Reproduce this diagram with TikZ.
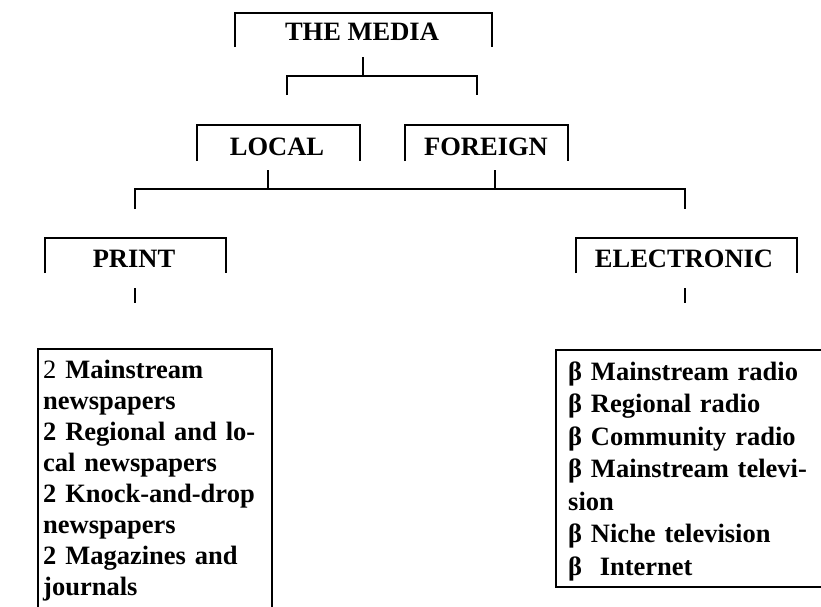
\documentclass[tikz,border=0pt]{standalone}
\usepackage{fontspec}
\setmainfont{Liberation Serif}
\begin{document}
\begin{tikzpicture}[x=1pt,y=-1pt,
  line/.style={line width=1.5pt},
  shadowline/.style={line width=2.6pt},
  label/.style={font=\fontsize{26.5}{31}\selectfont\bfseries, inner sep=0pt, anchor=base},
  listtext/.style={font=\fontsize{26.5}{31}\selectfont\bfseries, inner sep=0pt, anchor=base west, text width=260pt, align=left}
]
\useasboundingbox (0,0) rectangle (821,606);

% ---------- level 0 ----------
\node[label] (media) at (362,40) {THE MEDIA};
\draw[line] (235,47) -- (235,13) -- (492,13);
\draw[shadowline] (492,12) -- (492,47);

% ---------- level 1 ----------
\node[label] (local) at (277,155) {LOCAL};
\draw[line] (197,161) -- (197,125) -- (360,125);
\draw[shadowline] (360,124) -- (360,161);
\node[label] (foreign) at (486,155) {FOREIGN};
\draw[line] (405,161) -- (405,125) -- (568,125);
\draw[shadowline] (568,124) -- (568,161);

% ---------- level 2 ----------
\node[label] (print) at (134,267) {PRINT};
\draw[line] (45,273) -- (45,238) -- (226,238);
\draw[shadowline] (226,237) -- (226,273);
\node[label] (elec) at (684,267) {ELECTRONIC};
\draw[line] (576,273) -- (576,238) -- (797,238);
\draw[shadowline] (797,237) -- (797,273);

% ---------- connectors ----------
\coordinate (m-stem) at (363,57);
\coordinate (m-bar) at (363,76);
\coordinate (m-left) at (287,76);
\coordinate (m-right) at (477,76);
\coordinate (m-ld) at (287,95);
\coordinate (m-rd) at (477,95);
\draw[line] (m-stem) -- (m-bar);
\draw[line] (m-ld) -- (m-left) -- (m-right) -- (m-rd);

\coordinate (l-stem) at (268,170);
\coordinate (l-bar) at (268,189);
\coordinate (f-stem) at (495,170);
\coordinate (f-bar) at (495,189);
\coordinate (b-left) at (135,189);
\coordinate (b-right) at (685,189);
\coordinate (b-ld) at (135,209);
\coordinate (b-rd) at (685,209);
\draw[line] (l-stem) -- (l-bar);
\draw[line] (f-stem) -- (f-bar);
\draw[line] (b-ld) -- (b-left) -- (b-right) -- (b-rd);

\coordinate (p-s1) at (135,288);
\coordinate (p-s2) at (135,303);
\coordinate (e-s1) at (685,288);
\coordinate (e-s2) at (685,303);
\draw[line] (p-s1) -- (p-s2);
\draw[line] (e-s1) -- (e-s2);

% ---------- print list ----------
\draw[line] (38,607) -- (38,349) -- (272,349);
\draw[shadowline] (272,348) -- (272,607);
\node[listtext] (printlist) at (43,378) {%
{\mdseries 2} Mainstream\\
newspapers\\
2 Regional and lo-\\
cal newspapers\\
2 Knock-and-drop\\
newspapers\\
2 Magazines and\\
journals};

% ---------- electronic list ----------
\draw[line] (822,350) -- (556,350) -- (556,587);
\draw[shadowline] (555,587) -- (822,587);
\node[listtext, font=\fontsize{26.5}{32.5}\selectfont\bfseries] (eleclist) at (568,380) {%
β Mainstream radio\\
β Regional radio\\
β Community radio\\
β Mainstream televi-\\
sion\\
β Niche television\\
β\ \ Internet};
\end{tikzpicture}
\end{document}
